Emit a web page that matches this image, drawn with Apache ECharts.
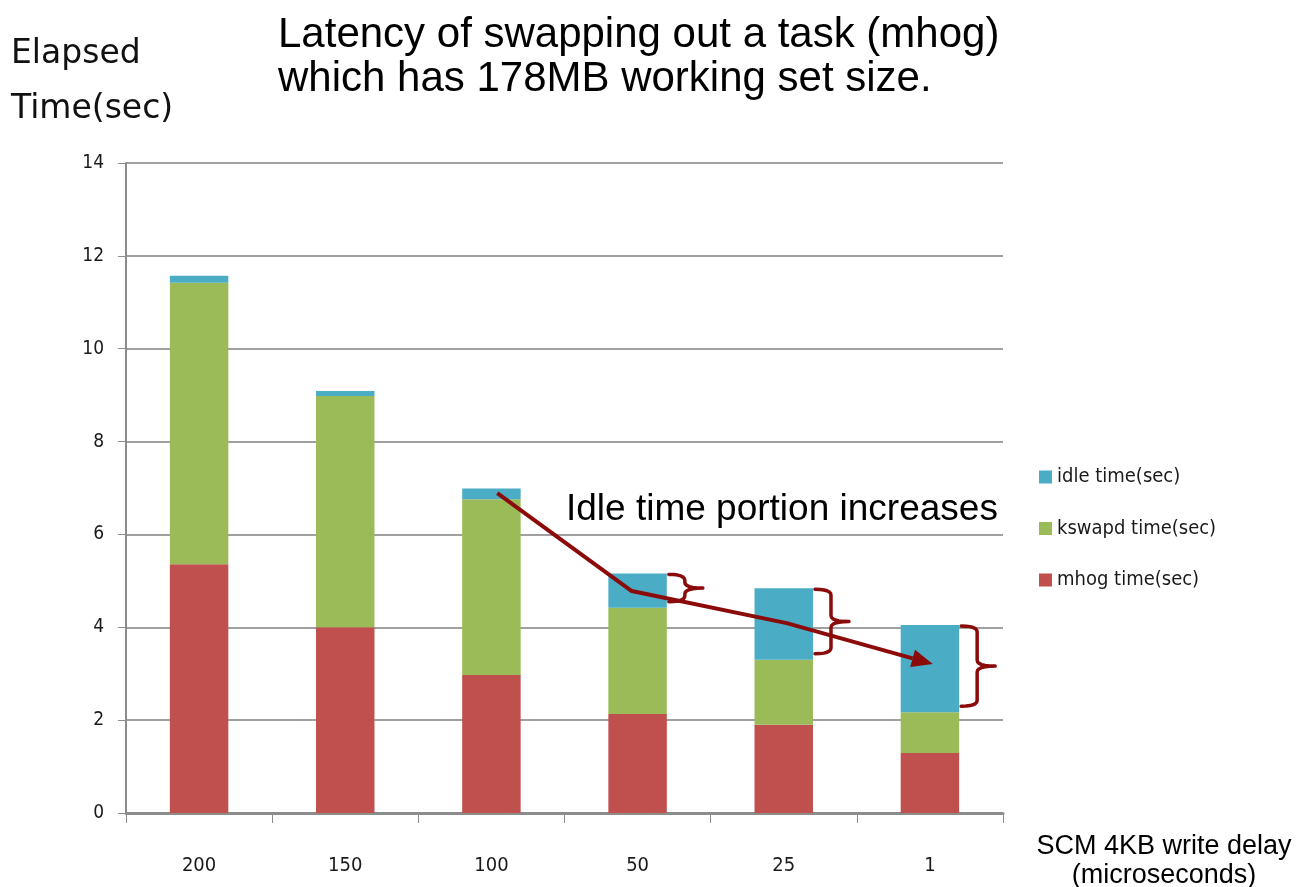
<!DOCTYPE html>
<html>
<head>
<meta charset="utf-8">
<title>Latency of swapping out a task (mhog)</title>
<script src="https://cdn.jsdelivr.net/npm/echarts@6/dist/echarts.min.js"></script>
<style>
  html, body { margin: 0; padding: 0; background: #ffffff; }
  #chart { width: 1298px; height: 887px; }
</style>
</head>
<body>
<div id="chart"></div>
<script>
// SCM 4KB write delay (microseconds)
const categories = ['200', '150', '100', '50', '25', '1'];

// Elapsed time split (seconds), stacked bottom to top
const mhogTime   = [5.36, 4.00, 2.97, 2.13, 1.90, 1.29];
const kswapdTime = [6.06, 4.98, 3.79, 2.29, 1.40, 0.88];
const idleTime   = [0.15, 0.11, 0.23, 0.74, 1.54, 1.88];

const seriesNames = ['mhog time(sec)', 'kswapd time(sec)', 'idle time(sec)'];
const legendOrder = ['idle time(sec)', 'kswapd time(sec)', 'mhog time(sec)'];

// Value axis range
const yMin = 0, yMax = 14, yStep = 2;

// Trend arrow through the bar tops: [category index, shift in bands, value]
const trendPath = [[2, 0.04, 6.89], [3, -0.04, 4.78], [4, 0.02, 4.09], [5, 0.02, 3.21]];
// Bars whose idle portion is marked with a brace
const bracedBars = [3, 4, 5];

const COLORS = { mhog: '#C0504D', kswapd: '#9BBB59', idle: '#4BACC6' };
const MARK = '#8B0A0A';
const CHART_FONT = '"DejaVu Sans Condensed", "DejaVu Sans", sans-serif';
const TEXT_FONT = '"Liberation Sans", Arial, sans-serif';

const chart = echarts.init(document.getElementById('chart'), null, { renderer: 'canvas' });

chart.setOption({
  animation: false,
  backgroundColor: '#ffffff',
  grid: { left: 126, right: 295, top: 163, bottom: 74, containLabel: false },
  legend: {
    orient: 'vertical',
    left: 1034,
    top: 461,
    itemWidth: 13,
    itemHeight: 13,
    itemGap: 29.5,
    icon: 'rect',
    data: legendOrder,
    textStyle: { fontFamily: CHART_FONT, fontSize: 20, lineHeight: 22, color: '#1a1a1a' }
  },
  xAxis: {
    type: 'category',
    data: categories,
    boundaryGap: true,
    axisLine: { show: true, lineStyle: { color: '#8c8c8c', width: 3 } },
    axisTick: { show: true, inside: false, length: 10, alignWithLabel: false, lineStyle: { color: '#8c8c8c', width: 1 } },
    axisLabel: { margin: 43, fontFamily: CHART_FONT, fontSize: 20, color: '#1a1a1a' },
    splitLine: { show: false }
  },
  yAxis: {
    type: 'value',
    min: yMin,
    max: yMax,
    interval: yStep,
    axisLine: { show: true, lineStyle: { color: '#8c8c8c', width: 2 } },
    axisTick: { show: true, inside: false, length: 8, lineStyle: { color: '#8c8c8c', width: 1 } },
    axisLabel: { margin: 22, fontFamily: CHART_FONT, fontSize: 19, color: '#1a1a1a' },
    splitLine: { show: true, lineStyle: { color: '#a0a0a0', width: 2 } }
  },
  series: [
    { name: seriesNames[0], type: 'bar', stack: 'time', data: mhogTime, barWidth: '40%', itemStyle: { color: COLORS.mhog } },
    { name: seriesNames[1], type: 'bar', stack: 'time', data: kswapdTime, barWidth: '40%', itemStyle: { color: COLORS.kswapd } },
    { name: seriesNames[2], type: 'bar', stack: 'time', data: idleTime, barWidth: '40%', itemStyle: { color: COLORS.idle } }
  ]
});

// Pixel helpers based on the chart's own scales
function bandWidth() {
  return chart.convertToPixel({ gridIndex: 0 }, [1, 0])[0] - chart.convertToPixel({ gridIndex: 0 }, [0, 0])[0];
}
function toPx(idx, shift, value) {
  const p = chart.convertToPixel({ gridIndex: 0 }, [idx, value]);
  return [p[0] + shift * bandWidth(), p[1]];
}
// Sample a quadratic curve into points (excluding the start point)
function quad(p0, c, p1, n) {
  const out = [];
  for (let k = 1; k <= n; k++) {
    const t = k / n, u = 1 - t;
    out.push([u * u * p0[0] + 2 * u * t * c[0] + t * t * p1[0],
              u * u * p0[1] + 2 * u * t * c[1] + t * t * p1[1]]);
  }
  return out;
}

const graphics = [];

// Headline and axis captions
graphics.push(
  { type: 'text', style: { text: 'Latency of swapping out a task (mhog)', font: '42px ' + TEXT_FONT, fill: '#000', textVerticalAlign: 'middle' }, x: 278, y: 35 },
  { type: 'text', style: { text: 'which has 178MB working set size.', font: '42px ' + TEXT_FONT, fill: '#000', textVerticalAlign: 'middle' }, x: 278, y: 79 },
  { type: 'text', style: { text: 'Elapsed', font: '33px "DejaVu Sans", sans-serif', fill: '#111', textVerticalAlign: 'middle' }, x: 11, y: 54 },
  { type: 'text', style: { text: 'Time(sec)', font: '33px "DejaVu Sans", sans-serif', fill: '#111', textVerticalAlign: 'middle' }, x: 11, y: 109 },
  { type: 'text', style: { text: 'SCM 4KB write delay', font: '27px ' + TEXT_FONT, fill: '#000', textAlign: 'center', textVerticalAlign: 'middle' }, x: 1164, y: 847 },
  { type: 'text', style: { text: '(microseconds)', font: '27px ' + TEXT_FONT, fill: '#000', textAlign: 'center', textVerticalAlign: 'middle' }, x: 1164, y: 876 },
  { type: 'text', style: { text: 'Idle time portion increases', font: '37px ' + TEXT_FONT, fill: '#000', textVerticalAlign: 'middle' }, x: 566, y: 510 }
);

// Trend arrow
const pts = trendPath.map(p => toPx(p[0], p[1], p[2]));
const tip = pts[pts.length - 1];
const prev = pts[pts.length - 2];
const ang = Math.atan2(tip[1] - prev[1], tip[0] - prev[0]);
const headLen = 21, headHalf = 9;
const base = [tip[0] - headLen * Math.cos(ang), tip[1] - headLen * Math.sin(ang)];
graphics.push({
  type: 'polyline',
  shape: { points: pts.slice(0, -1).concat([base]) },
  style: { stroke: MARK, lineWidth: 4, lineJoin: 'round', fill: null },
  z: 10
});
graphics.push({
  type: 'polygon',
  shape: {
    points: [
      tip,
      [base[0] + headHalf * Math.sin(ang), base[1] - headHalf * Math.cos(ang)],
      [base[0] - headHalf * Math.sin(ang), base[1] + headHalf * Math.cos(ang)]
    ]
  },
  style: { fill: MARK },
  z: 10
});

// Braces beside the idle portion of the last bars
const bw = bandWidth();
bracedBars.forEach(i => {
  const low = mhogTime[i] + kswapdTime[i];
  const high = low + idleTime[i];
  const center = chart.convertToPixel({ gridIndex: 0 }, [i, 0])[0];
  const x0 = center + bw * 0.2 + 2;
  const y1 = chart.convertToPixel({ gridIndex: 0 }, [i, high])[1] + 1;
  const y2 = chart.convertToPixel({ gridIndex: 0 }, [i, low])[1] - 6;
  const ym = (y1 + y2) / 2;
  const xs = x0 + 16, xt = x0 + 34, r = 6;
  let p = [[x0, y1]];
  p = p.concat(quad([x0, y1], [xs, y1], [xs, y1 + r], 6));
  p.push([xs, ym - r]);
  p = p.concat(quad([xs, ym - r], [xs, ym], [xt, ym], 6));
  p = p.concat(quad([xt, ym], [xs, ym], [xs, ym + r], 6));
  p.push([xs, y2 - r]);
  p = p.concat(quad([xs, y2 - r], [xs, y2], [x0, y2], 6));
  graphics.push({
    type: 'polyline',
    shape: { points: p },
    style: { stroke: MARK, lineWidth: 3.5, fill: null, lineCap: 'round', lineJoin: 'round' },
    z: 10
  });
});

chart.setOption({ graphic: graphics });
</script>
</body>
</html>
